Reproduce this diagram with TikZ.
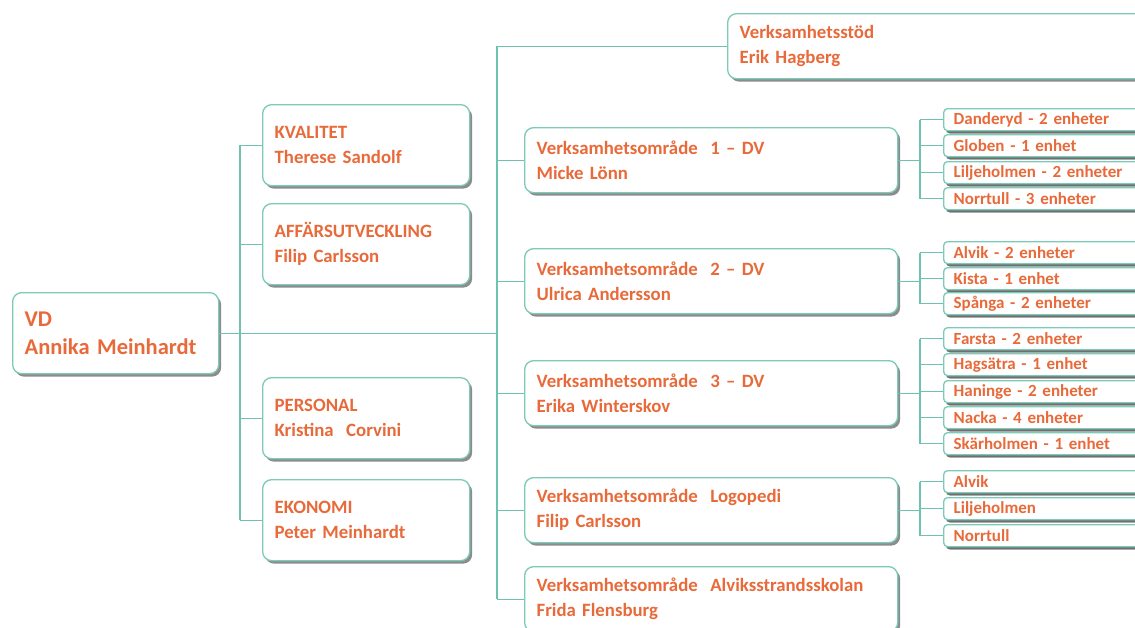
\documentclass[tikz,border=0pt]{standalone}
\usepackage{fontspec}
\setmainfont[WordSpace=0.75]{Carlito}
\usetikzlibrary{shadows}
\definecolor{txtor}{HTML}{E86A3A}
\definecolor{tealb}{HTML}{7CCAB8}
\definecolor{teall}{HTML}{6FC2AF}
\tikzset{
  box/.style={draw=tealb, line width=1.3pt, fill=white, rounded corners=9pt,
    anchor=north west, align=left, inner xsep=12pt, inner ysep=0pt,
    text=txtor, font=\bfseries\fontsize{18.8}{25}\selectfont,
    drop shadow={shadow xshift=2.5pt, shadow yshift=-3pt, fill=black!60, opacity=0.75}},
  bigbox/.style={box, minimum width=207pt, minimum height=81pt, text width=183pt},
  vobox/.style={box, minimum width=373pt, minimum height=65pt, text width=349pt},
  unit/.style={box, rounded corners=4pt, minimum width=210pt, minimum height=22pt,
    text width=190pt, inner xsep=10pt, font=\bfseries\fontsize{17}{18}\selectfont,
    drop shadow={shadow xshift=2pt, shadow yshift=-2.5pt, fill=black!60, opacity=0.75}},
  conn/.style={draw=teall, line width=1.2pt}
}
\begin{document}
\begin{tikzpicture}[x=1pt,y=-1pt]
\clip (0,0) rectangle (1135,627);
\fill[white] (0,0) rectangle (1135,627);
\coordinate (t1) at (240,332);
\coordinate (t2) at (497,332);
\coordinate (t3) at (920,332);
% top-level
\node[box, minimum width=206pt, minimum height=81pt, text width=182pt,
  font=\bfseries\fontsize{22.5}{28}\selectfont] (vd) at (12,292) {VD\\Annika Meinhardt};
% staff
\node[bigbox] (kval) at (262,104) {KVALITET\\Therese Sandolf};
\node[bigbox] (aff) at (262,203) {AFFÄRSUTVECKLING\\Filip Carlsson};
\node[bigbox] (pers) at (262,377) {PERSONAL\\Kristina\ \ Corvini};
\node[bigbox] (ekon) at (262,479) {EKONOMI\\Peter Meinhardt};
% line organisation
\node[box, minimum width=430pt, minimum height=65pt, text width=406pt] (vs) at (727,13) {Verksamhetsstöd\\Erik Hagberg};
\node[vobox] (vo1) at (524,127) {Verksamhetsområde\ \ 1 – DV\\Micke Lönn};
\node[vobox] (vo2) at (524,248) {Verksamhetsområde\ \ 2 – DV\\Ulrica Andersson};
\node[vobox] (vo3) at (524,360) {Verksamhetsområde\ \ 3 – DV\\Erika Winterskov};
\node[vobox] (vo4) at (524,477) {Verksamhetsområde\ \ Logopedi\\Filip Carlsson};
\node[vobox] (vo5) at (524,566) {Verksamhetsområde\ \ Alviksstrandsskolan\\Frida Flensburg};
% units
\node[unit] (u11) at (943,108) {Danderyd - 2 enheter};
\node[unit] (u12) at (943,134) {Globen - 1 enhet};
\node[unit] (u13) at (943,161) {Liljeholmen - 2 enheter};
\node[unit] (u14) at (943,187) {Norrtull - 3 enheter};
\node[unit] (u21) at (943,241) {Alvik - 2 enheter};
\node[unit] (u22) at (943,267) {Kista - 1 enhet};
\node[unit] (u23) at (943,292) {Spånga - 2 enheter};
\node[unit] (u31) at (943,327) {Farsta - 2 enheter};
\node[unit] (u32) at (943,353) {Hagsätra - 1 enhet};
\node[unit] (u33) at (943,380) {Haninge - 2 enheter};
\node[unit] (u34) at (943,406) {Nacka - 4 enheter};
\node[unit] (u35) at (943,432) {Skärholmen - 1 enhet};
\node[unit] (u41) at (943,470) {Alvik};
\node[unit] (u42) at (943,497) {Liljeholmen};
\node[unit] (u43) at (943,524) {Norrtull};
% connectors
\path[conn] (vd.east) -- (vd.east -| t2);
\path[conn] (kval.west -| t1) -- (ekon.west -| t1);
\foreach \n in {kval,aff,pers,ekon} \path[conn] (\n.west) -- (\n.west -| t1);
\path[conn] (vs.west -| t2) -- (vo5.west -| t2);
\foreach \n in {vs,vo1,vo2,vo3,vo4,vo5} \path[conn] (\n.west) -- (\n.west -| t2);
\foreach \v/\a/\b in {vo1/u11/u14, vo2/u21/u23, vo3/u31/u35, vo4/u41/u43}{
  \path[conn] (\v.east) -- (\v.east -| t3);
  \path[conn] (\a.west -| t3) -- (\b.west -| t3);
}
\foreach \n in {u11,u12,u13,u14,u21,u22,u23,u31,u32,u33,u34,u35,u41,u42,u43}
  \path[conn] (\n.west) -- (\n.west -| t3);
\end{tikzpicture}
\end{document}
